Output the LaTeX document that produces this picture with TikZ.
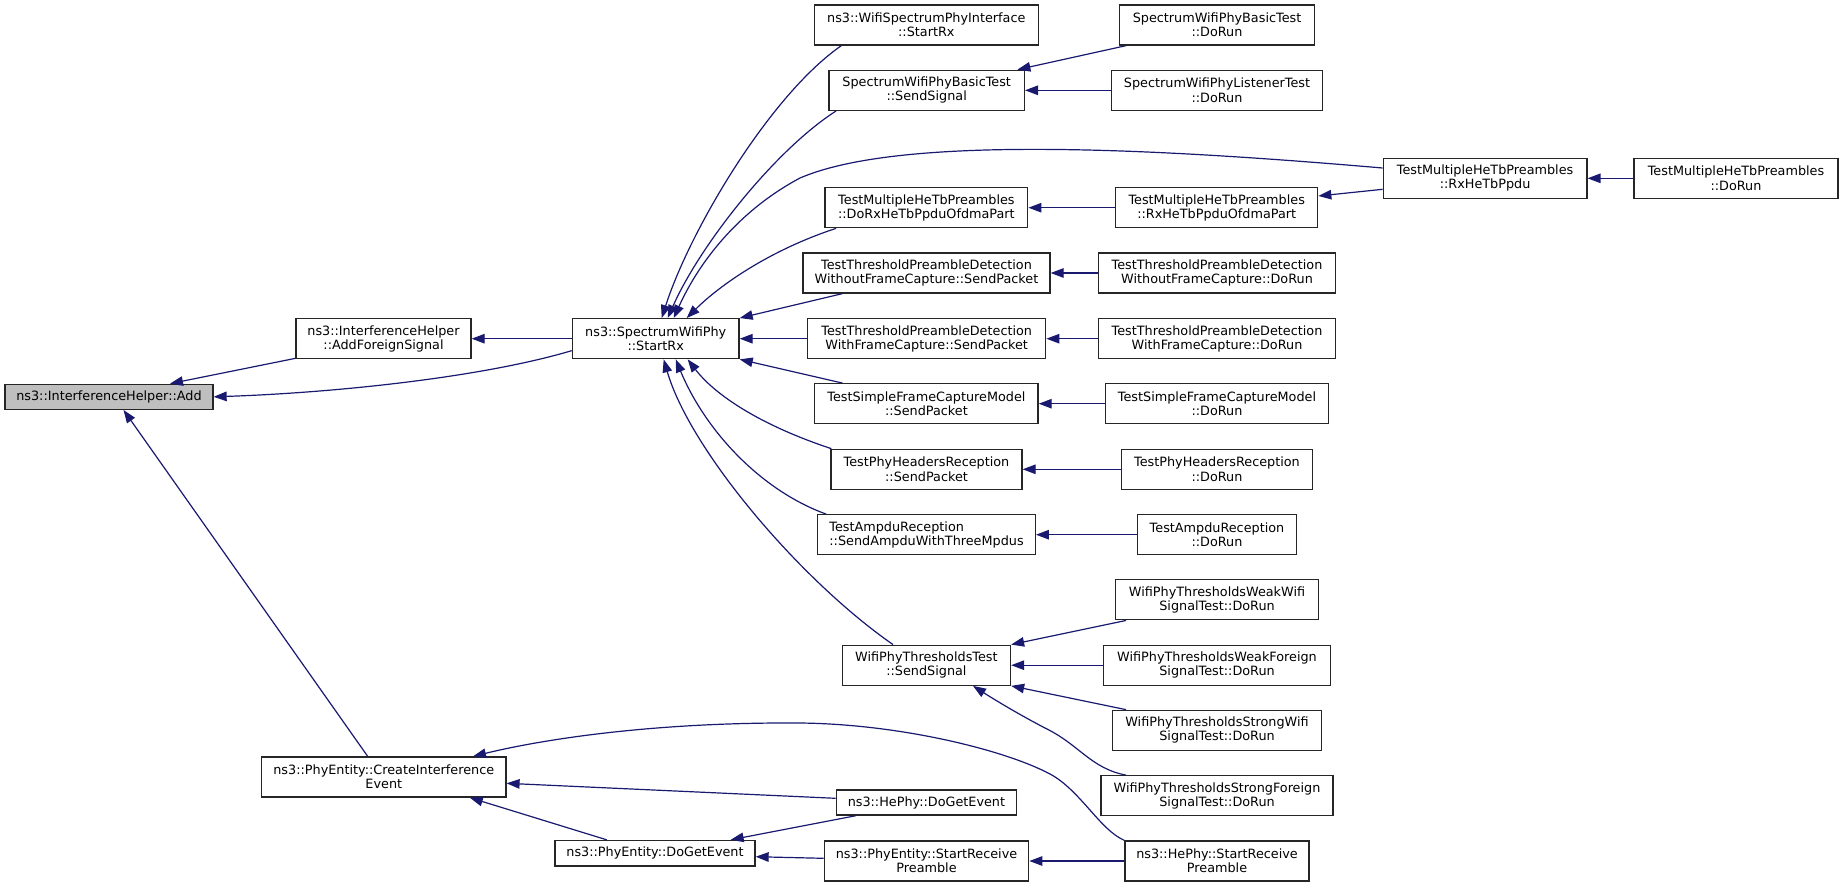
\documentclass[tikz,border=0pt]{standalone}
\usepackage{fontspec}
\setmainfont{DejaVu Sans}
\usetikzlibrary{arrows.meta}
\definecolor{mblue}{HTML}{191970}
\definecolor{rootfill}{HTML}{BFBFBF}
\begin{document}
\begin{tikzpicture}[x=1pt,y=-1pt,
  box/.style={draw=black!85, line width=1.3pt, fill=white, inner sep=0pt,
    minimum height=40pt, align=center, font=\fontsize{12.8}{14.3}\selectfont},
  onebox/.style={box, minimum height=25pt},
  edge/.style={draw=mblue, line width=1.2pt, -{Triangle[length=13pt,width=9.5pt]}}]
\useasboundingbox[fill=white] (0,0) rectangle (1843,887);

% left / middle columns
\node[onebox, fill=rootfill, minimum width=208pt] (add) at (109,396.8) {ns3::InterferenceHelper::Add};
\node[box, minimum width=175pt] (afs) at (383.5,338.7) {ns3::InterferenceHelper\\::AddForeignSignal};
\node[box, minimum width=166.7pt] (srx) at (655.7,338.7) {ns3::SpectrumWifiPhy\\::StartRx};
\node[box, minimum width=244.3pt] (cie) at (383.8,777) {ns3::PhyEntity::CreateInterference\\Event};
\node[onebox, minimum width=200pt, minimum height=25.5pt] (dge) at (655,853.2) {ns3::PhyEntity::DoGetEvent};

% middle column
\node[box, minimum width=224pt] (wspi) at (926.3,25) {ns3::WifiSpectrumPhyInterface\\::StartRx};
\node[box, minimum width=195.3pt] (bsend) at (926.7,90.3) {SpectrumWifiPhyBasicTest\\::SendSignal};
\node[box, minimum width=202.7pt] (doofdma) at (926.4,207.7) {TestMultipleHeTbPreambles\\::DoRxHeTbPpduOfdmaPart};
\node[box, minimum width=247pt] (wosend) at (926.5,273) {TestThresholdPreambleDetection\\WithoutFrameCapture::SendPacket};
\node[box, minimum width=238pt] (wfsend) at (926.7,338.7) {TestThresholdPreambleDetection\\WithFrameCapture::SendPacket};
\node[box, minimum width=223.3pt] (sfsend) at (926.4,403.7) {TestSimpleFrameCaptureModel\\::SendPacket};
\node[box, minimum width=191pt] (phsend) at (926.5,469.3) {TestPhyHeadersReception\\::SendPacket};
\node[box, minimum width=217.6pt, align=left] (ampsend) at (926.5,534.7) {TestAmpduReception\\::SendAmpduWithThreeMpdus};
\node[box, minimum width=168.2pt] (tsend) at (926.4,665.2) {WifiPhyThresholdsTest\\::SendSignal};
\node[onebox, minimum width=180.2pt] (hdge) at (926.4,802.5) {ns3::HePhy::DoGetEvent};
\node[box, minimum width=204.4pt] (pesrp) at (926.5,861) {ns3::PhyEntity::StartReceive\\Preamble};

% right columns
\node[box, minimum width=195.4pt] (brun) at (1217,25) {SpectrumWifiPhyBasicTest\\::DoRun};
\node[box, minimum width=210.6pt] (lrun) at (1217,90.3) {SpectrumWifiPhyListenerTest\\::DoRun};
\node[box, minimum width=203.6pt] (rxppdu) at (1485.1,178.3) {TestMultipleHeTbPreambles\\::RxHeTbPpdu};
\node[box, minimum width=204pt] (mrun) at (1736,178.3) {TestMultipleHeTbPreambles\\::DoRun};
\node[box, minimum width=202pt] (rxofdma) at (1216.7,207.7) {TestMultipleHeTbPreambles\\::RxHeTbPpduOfdmaPart};
\node[box, minimum width=236.6pt] (worun) at (1217,273) {TestThresholdPreambleDetection\\WithoutFrameCapture::DoRun};
\node[box, minimum width=236.6pt] (wfrun) at (1217,338.7) {TestThresholdPreambleDetection\\WithFrameCapture::DoRun};
\node[box, minimum width=222.6pt] (sfrun) at (1217,403.7) {TestSimpleFrameCaptureModel\\::DoRun};
\node[box, minimum width=190.6pt] (phrun) at (1217,469.3) {TestPhyHeadersReception\\::DoRun};
\node[box, minimum width=159.4pt] (amprun) at (1217,534.7) {TestAmpduReception\\::DoRun};
\node[box, minimum width=202.6pt] (weakwifi) at (1217,599.8) {WifiPhyThresholdsWeakWifi\\SignalTest::DoRun};
\node[box, minimum width=227.4pt] (weakforeign) at (1217,665.2) {WifiPhyThresholdsWeakForeign\\SignalTest::DoRun};
\node[box, minimum width=209.4pt] (strongwifi) at (1217,730.3) {WifiPhyThresholdsStrongWifi\\SignalTest::DoRun};
\node[box, minimum width=232pt] (strongforeign) at (1217,795.8) {WifiPhyThresholdsStrongForeign\\SignalTest::DoRun};
\node[box, minimum width=184pt] (hesrp) at (1217,861) {ns3::HePhy::StartReceive\\Preamble};

% edges into Add
\draw[edge] ([yshift=1pt]afs.south west) -- ([xshift=61pt]add.north);
\draw[edge] ([yshift=8.7pt]srx.south west) .. controls (480,378) and (330,393) .. (add.east);
\draw[edge] ([xshift=-16.1pt]cie.north) -- ([xshift=14.5pt]add.south);
\draw[edge] (srx.west) -- (afs.east);

% edges into StartRx (top)
\draw[edge] ([xshift=27.7pt]wspi.south west) .. controls (770,95) and (690,230) .. ([xshift=6pt]srx.north);
\draw[edge] ([xshift=7.7pt]bsend.south west) .. controls (775,150) and (700,245) .. ([xshift=12pt]srx.north);
\draw[edge] ([yshift=10.3pt]rxppdu.west) .. controls (1150,148) and (900,135) .. (800,178)
  .. controls (740,210) and (700,260) .. ([xshift=18pt]srx.north);
\draw[edge] ([xshift=11.7pt]doofdma.south west) .. controls (770,250) and (720,285) .. ([xshift=31pt]srx.north);
\draw[edge] ([xshift=40pt]wosend.south west) -- (srx.north east);
\draw[edge] (wfsend.west) -- (srx.east);
% edges into StartRx (bottom)
\draw[edge] ([xshift=28.3pt]sfsend.north west) -- (srx.south east);
\draw[edge] ([xshift=1pt]phsend.north west) .. controls (760,425) and (715,395) .. ([xshift=32pt]srx.south);
\draw[edge] ([xshift=9pt]ampsend.north west) .. controls (760,490) and (705,430) .. ([xshift=20pt]srx.south);
\draw[edge] ([xshift=-33.4pt]tsend.north) .. controls (800,580) and (690,450) .. ([xshift=8pt]srx.south);

% right side
\draw[edge] ([xshift=7.4pt]brun.south west) -- ([xshift=-7.6pt]bsend.north east);
\draw[edge] (lrun.west) -- (bsend.east);
\draw[edge] (rxofdma.west) -- (doofdma.east);
\draw[edge] ([yshift=-11pt]rxppdu.west) -- ([yshift=11.7pt]rxofdma.east);
\draw[edge] (mrun.west) -- (rxppdu.east);
\draw[edge] (worun.west) -- (wosend.east);
\draw[edge] (wfrun.west) -- (wfsend.east);
\draw[edge] (sfrun.west) -- (sfsend.east);
\draw[edge] (phrun.west) -- (phsend.east);
\draw[edge] (amprun.west) -- (ampsend.east);
\draw[edge] ([xshift=11pt]weakwifi.south west) -- (tsend.north east);
\draw[edge] (weakforeign.west) -- (tsend.east);
\draw[edge] ([xshift=14.4pt]strongwifi.north west) -- (tsend.south east);
\draw[edge] ([xshift=25.7pt]strongforeign.north west) .. controls (1090,768) and (1080,745) .. (1045,728)
  .. controls (1020,715) and (995,700) .. ([xshift=46.6pt]tsend.south);

% bottom
\draw[edge] (hesrp.north west) .. controls (1100,830) and (1080,790) .. (1050,774)
  .. controls (1005,750) and (900,724) .. (800,723)
  .. controls (650,722) and (540,740) .. ([xshift=89.2pt]cie.north);
\draw[edge] ([yshift=4.2pt]hdge.west) -- ([yshift=-6.3pt]cie.east);
\draw[edge] ([xshift=-48.3pt]dge.north) -- ([xshift=86pt]cie.south);
\draw[edge] ([xshift=20.4pt]hdge.south west) -- ([xshift=-25pt]dge.north east);
\draw[edge] ([yshift=2.7pt]pesrp.west) -- ([yshift=-3.5pt]dge.east);
\draw[edge] (hesrp.west) -- (pesrp.east);
\end{tikzpicture}
\end{document}
